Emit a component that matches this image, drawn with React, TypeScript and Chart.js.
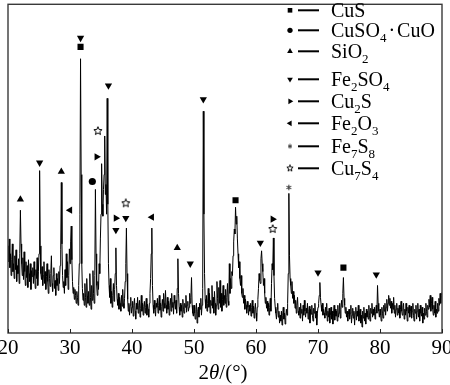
import { useEffect, useRef } from 'react';
import { Chart, registerables } from 'chart.js';

Chart.register(...registerables);

// ---- data ----
const startAngle = 20;
const angleStep = 0.1;
// intensity every 0.1 deg, one row per degree (20.x ... 89.x), plus 90.0
const intensity = [
  88, 72, 95, 66, 80, 58, 74, 90, 62, 70,
  55, 78, 64, 84, 52, 68, 60, 75, 50, 80,
  124, 90, 70, 58, 76, 54, 82, 62, 48, 72,
  56, 68, 46, 74, 60, 52, 70, 44, 63, 57,
  66, 50, 72, 58, 45, 64, 55, 76, 48, 62,
  80, 164, 88, 60, 54, 67, 48, 58, 72, 50,
  62, 44, 57, 70, 52, 40, 64, 55, 47, 60,
  78, 50, 42, 58, 66, 45, 53, 38, 60, 48,
  55, 43, 62, 50, 68, 84, 152, 90, 58, 46,
  52, 40, 64, 48, 80, 56, 72, 44, 58, 85,
  70, 92, 108, 74, 52, 40, 46, 34, 44, 38,
  30, 42, 36, 28, 48, 70, 120, 277, 160, 70,
  45, 33, 40, 28, 50, 36, 26, 55, 38, 30,
  42, 28, 60, 36, 24, 48, 33, 63, 40, 30,
  58, 145, 80, 48, 38, 52, 44, 70, 60, 95,
  120, 171, 130, 118, 145, 160, 199, 140, 150, 120,
  237, 130, 70, 48, 36, 55, 30, 42, 26, 38,
  50, 32, 44, 60, 86, 48, 34, 28, 40, 24,
  36, 30, 22, 38, 27, 44, 30, 25, 35, 52,
  70, 106, 60, 34, 22, 30, 18, 28, 36, 20,
  26, 32, 17, 28, 35, 22, 14, 30, 24, 36,
  20, 28, 33, 16, 25, 38, 22, 30, 18, 27,
  32, 20, 26, 35, 18, 29, 24, 16, 30, 40,
  55, 80, 106, 48, 28, 20, 33, 24, 17, 30,
  26, 35, 20, 28, 38, 23, 30, 16, 27, 34,
  22, 40, 30, 25, 43, 28, 20, 36, 24, 32,
  18, 28, 35, 22, 40, 26, 31, 19, 38, 30,
  24, 33, 20, 45, 75, 40, 26, 18, 30, 22,
  28, 16, 34, 24, 20, 30, 26, 38, 21, 28,
  32, 22, 26, 40, 30, 36, 56, 28, 20, 17,
  28, 20, 14, 24, 30, 10, 22, 26, 16, 30,
  24, 35, 18, 28, 45, 224, 120, 60, 34, 25,
  38, 22, 30, 45, 26, 40, 20, 33, 28, 48,
  25, 36, 20, 42, 30, 18, 28, 52, 35, 24,
  46, 30, 53, 26, 40, 22, 34, 48, 28, 38,
  30, 44, 26, 36, 50, 32, 28, 70, 40, 55,
  45, 62, 58, 78, 92, 105, 100, 127, 110, 118,
  95, 80, 66, 72, 55, 48, 58, 40, 36, 45,
  30, 38, 24, 34, 28, 20, 32, 26, 18, 28,
  22, 30, 17, 26, 33, 20, 27, 15, 24, 30,
  20, 12, 26, 34, 45, 60, 53, 50, 75, 83,
  70, 62, 48, 55, 40, 30, 36, 25, 32, 22,
  30, 18, 26, 35, 22, 50, 70, 64, 96, 58,
  35, 26, 20, 14, 24, 30, 16, 22, 10, 18,
  12, 22, 8, 18, 26, 14, 20, 9, 16, 24,
  18, 30, 60, 141, 78, 55, 48, 40, 52, 35,
  42, 30, 38, 25, 33, 20, 28, 36, 22, 18,
  26, 15, 30, 20, 24, 12, 28, 18, 33, 22,
  16, 25, 20, 30, 14, 22, 27, 10, 24, 19,
  28, 18, 12, 25, 20, 30, 15, 22, 8, 20,
  26, 30, 38, 51, 36, 28, 22, 30, 18, 24,
  20, 15, 26, 18, 30, 12, 22, 16, 25, 10,
  18, 26, 14, 22, 9, 20, 28, 13, 24, 17,
  22, 12, 28, 16, 20, 30, 15, 24, 33, 26,
  40, 56, 35, 28, 20, 26, 16, 22, 12, 19,
  24, 14, 20, 28, 10, 18, 25, 15, 22, 8,
  20, 26, 13, 22, 17, 28, 12, 20, 24, 10,
  18, 6, 22, 15, 26, 12, 20, 9, 24, 16,
  22, 14, 28, 18, 12, 25, 20, 30, 16, 24,
  18, 26, 14, 22, 28, 20, 48, 30, 22, 16,
  24, 18, 12, 26, 20, 15, 28, 22, 30, 18,
  26, 34, 22, 30, 38, 28, 35, 25, 32, 20,
  30, 24, 36, 20, 28, 16, 24, 30, 18, 25,
  20, 28, 15, 24, 32, 22, 18, 26, 30, 14,
  24, 18, 30, 22, 12, 26, 20, 28, 16, 22,
  27, 15, 22, 30, 18, 12, 24, 20, 28, 14,
  22, 30, 16, 24, 12, 28, 20, 17, 26, 10,
  20, 14, 25, 18, 30, 22, 16, 28, 24, 34,
  26, 38, 22, 30, 36, 24, 18, 28, 20, 32,
  16, 24, 20, 30, 22, 35, 28, 40, 30, 38,
  41,
];

const xTicks = [20, 30, 40, 50, 60, 70, 80, 90];

// phase marker positions: [2theta, level]
const cusMarks = [[31.7, 289], [56.7, 134], [74.1, 66]];
const cuso4CuoMarks = [[33.6, 153]];
const sio2Marks = [[22.0, 135], [28.6, 163], [47.3, 86]];
const fe2so4Marks = [[25.1, 172], [31.7, 298], [36.2, 250], [37.4, 104], [39.0, 116], [49.4, 70], [51.5, 236], [60.7, 91], [70.0, 61], [79.4, 59]];
const cu2sMarks = [[34.3, 178], [37.4, 116], [62.7, 115]];
const fe2o3Marks = [[30.0, 124], [43.2, 117]];
const fe7s8Marks = [[65.3, 147]];
const cu7s4Marks = [[34.5, 204], [39.0, 131], [62.7, 105]];

// legend labels: [text, isSubscript]
const legendCuS = [['CuS', 0]];
const legendCuSO4CuO = [['CuSO', 0], ['4', 1], ['\u00b7', 2], ['CuO', 0]];
const legendSiO2 = [['SiO', 0], ['2', 1]];
const legendFe2SO4 = [['Fe', 0], ['2', 1], ['SO', 0], ['4', 1]];
const legendCu2S = [['Cu', 0], ['2', 1], ['S', 0]];
const legendFe2O3 = [['Fe', 0], ['2', 1], ['O', 0], ['3', 1]];
const legendFe7S8 = [['Fe', 0], ['7', 1], ['S', 0], ['8', 1]];
const legendCu7S4 = [['Cu', 0], ['7', 1], ['S', 0], ['4', 1]];

const SERIF = '"Liberation Serif", "Times New Roman", Times, serif';

function makeIcon(kind: string, size: number) {
  const c = document.createElement('canvas');
  c.width = size;
  c.height = size;
  const g = c.getContext('2d')!;
  const cx = size / 2, cy = size / 2, R = size / 2 - 0.7;
  g.strokeStyle = '#000';
  g.lineWidth = 1;
  g.beginPath();
  if (kind === 'star5') {
    const r = R * 0.45;
    for (let i = 0; i < 10; i++) {
      const a = -Math.PI / 2 + (i * Math.PI) / 5;
      const rr = i % 2 ? r : R;
      const px = cx + rr * Math.cos(a), py = cy + rr * Math.sin(a);
      if (i) g.lineTo(px, py); else g.moveTo(px, py);
    }
    g.closePath();
  } else {
    g.strokeStyle = '#333';
    for (let i = 0; i < 3; i++) {
      const a = Math.PI / 2 + (i * Math.PI) / 3;
      g.moveTo(cx + R * Math.cos(a), cy + R * Math.sin(a));
      g.lineTo(cx - R * Math.cos(a), cy - R * Math.sin(a));
    }
  }
  g.stroke();
  return c;
}

function drawShape(ctx: CanvasRenderingContext2D, kind: string, x: number, y: number, s: number, icons: any) {
  ctx.save();
  ctx.fillStyle = '#000';
  ctx.beginPath();
  const tri = (rot: number) => {
    const r = s;
    for (let i = 0; i < 3; i++) {
      const a = rot + (i * 2 * Math.PI) / 3;
      const px = x + Math.sin(a) * r, py = y - Math.cos(a) * r;
      if (i) ctx.lineTo(px, py); else ctx.moveTo(px, py);
    }
    ctx.closePath();
    ctx.fill();
  };
  if (kind === 'rect') { ctx.fillRect(x - s * 0.7, y - s * 0.7, s * 1.4, s * 1.4); }
  else if (kind === 'circle') { ctx.arc(x, y, s * 0.8, 0, Math.PI * 2); ctx.fill(); }
  else if (kind === 'up') tri(0);
  else if (kind === 'down') tri(Math.PI);
  else if (kind === 'right') tri(Math.PI / 2);
  else if (kind === 'left') tri(-Math.PI / 2);
  else if (kind === 'asterisk') { const im = icons.astSmall; ctx.drawImage(im, x - im.width / 2, y - im.height / 2); }
  else if (kind === 'star5') { const im = icons.starSmall; ctx.drawImage(im, x - im.width / 2, y - im.height / 2); }
  ctx.restore();
}

export default function App() {
  const ref = useRef<HTMLCanvasElement>(null);

  useEffect(() => {
    const canvas = ref.current!;
    const starBig = makeIcon('star5', 10);
    const astBig = makeIcon('asterisk', 7);
    const icons = { starSmall: makeIcon('star5', 8), astSmall: makeIcon('asterisk', 6) };

    const trace = intensity.map((v, i) => ({ x: startAngle + i * angleStep, y: v }));
    const toPts = (arr: number[][]) => arr.map(([x, y]) => ({ x, y }));

    const markerSet = (arr: number[][], style: any, rotation: number, radius: number) => ({
      type: 'line' as const,
      data: toPts(arr),
      showLine: false,
      pointStyle: style,
      pointRotation: rotation,
      pointRadius: radius,
      pointBackgroundColor: '#000',
      pointBorderColor: '#000',
      pointBorderWidth: 0,
      pointHoverRadius: radius,
    });

    const legendRows = [
      { marker: 'rect', parts: legendCuS },
      { marker: 'circle', parts: legendCuSO4CuO },
      { marker: 'up', parts: legendSiO2 },
      { marker: 'down', parts: legendFe2SO4 },
      { marker: 'right', parts: legendCu2S },
      { marker: 'left', parts: legendFe2O3 },
      { marker: 'asterisk', parts: legendFe7S8 },
      { marker: 'star5', parts: legendCu7S4 },
    ];
    const legendBaselines = [17, 37, 58, 86, 108, 130, 153, 175];

    const decor = {
      id: 'decor',
      afterDraw(chart: any) {
        const { ctx, chartArea: a, scales } = chart;
        const xs = scales.x;
        ctx.save();
        // frame
        ctx.strokeStyle = '#3a3a3a';
        ctx.lineWidth = 1.4;
        ctx.strokeRect(a.left, a.top, a.right - a.left, a.bottom - a.top);
        // inward ticks
        ctx.lineWidth = 1;
        ctx.strokeStyle = '#222';
        ctx.beginPath();
        xTicks.forEach((v) => {
          const px = Math.round(xs.getPixelForValue(v)) + 0.5;
          ctx.moveTo(px, a.bottom);
          ctx.lineTo(px, a.bottom - 4);
        });
        ctx.stroke();

        // axis title 2θ/(°)
        ctx.fillStyle = '#000';
        ctx.textBaseline = 'alphabetic';
        const fN = `21px ${SERIF}`, fI = `italic 21px ${SERIF}`;
        const segs = [['2', fN], ['\u03b8', fI], ['/(\u00b0)', fN]];
        let tw = 0;
        segs.forEach(([t, f]) => { ctx.font = f; tw += ctx.measureText(t).width; });
        let tx = (a.left + a.right) / 2 - tw / 2 - 2;
        segs.forEach(([t, f]) => { ctx.font = f; ctx.fillText(t, tx, 379); tx += ctx.measureText(t).width; });

        // legend
        legendRows.forEach((row, i) => {
          const by = legendBaselines[i];
          const my = by - 6.7;
          drawShape(ctx, row.marker, 290, my, 3.3, icons);
          ctx.fillStyle = '#000';
          ctx.fillRect(298, my - 1, 21, 2);
          let lx = 331;
          row.parts.forEach(([t, sub]: any) => {
            if (sub === 1) {
              ctx.font = `13px ${SERIF}`;
              ctx.fillText(t, lx, by + 4.5);
              lx += ctx.measureText(t).width;
            } else if (sub === 2) {
              ctx.font = `20px ${SERIF}`;
              lx += 2;
              ctx.fillText(t, lx, by);
              lx += ctx.measureText(t).width + 2;
            } else {
              ctx.font = `20px ${SERIF}`;
              ctx.fillText(t, lx, by);
              lx += ctx.measureText(t).width;
            }
          });
        });
        ctx.restore();
      },
    };

    const chart = new Chart(canvas, {
      type: 'line',
      data: {
        datasets: [
          {
            data: trace,
            borderColor: '#000',
            borderWidth: 1,
            pointRadius: 0,
            tension: 0,
            fill: false,
          },
          markerSet(cusMarks, 'rect', 0, 4.3),
          markerSet(cuso4CuoMarks, 'circle', 0, 3.6),
          markerSet(sio2Marks, 'triangle', 0, 4.2),
          markerSet(fe2so4Marks, 'triangle', 180, 4.2),
          markerSet(cu2sMarks, 'triangle', 90, 4.2),
          markerSet(fe2o3Marks, 'triangle', -90, 4.2),
          markerSet(fe7s8Marks, astBig, 0, 4),
          markerSet(cu7s4Marks, starBig, 0, 4),
        ] as any,
      },
      options: {
        responsive: false,
        animation: false,
        events: [],
        layout: { padding: { left: 8, right: 8, top: 1, bottom: 0 } },
        plugins: { legend: { display: false }, tooltip: { enabled: false } },
        scales: {
          x: {
            type: 'linear',
            min: 20,
            max: 90,
            afterBuildTicks: (s: any) => { s.ticks = xTicks.map((v) => ({ value: v })); },
            ticks: {
              color: '#000',
              font: { family: SERIF, size: 21 },
              padding: 3,
              maxRotation: 0,
              autoSkip: false,
            },
            grid: { display: false, drawTicks: false },
            border: { display: false },
            afterFit: (s: any) => { s.height = 52; s.paddingLeft = 0; s.paddingRight = 0; },
          },
          y: { min: 0, max: 332, display: false },
        },
      },
      plugins: [decor],
    } as any);

    return () => chart.destroy();
  }, []);

  return (
    <div style={{ position: 'fixed', left: 0, top: 0, width: 450, height: 385, background: '#fff' }}>
      <canvas ref={ref} width={450} height={385} style={{ display: 'block', width: 450, height: 385 }} />
    </div>
  );
}
